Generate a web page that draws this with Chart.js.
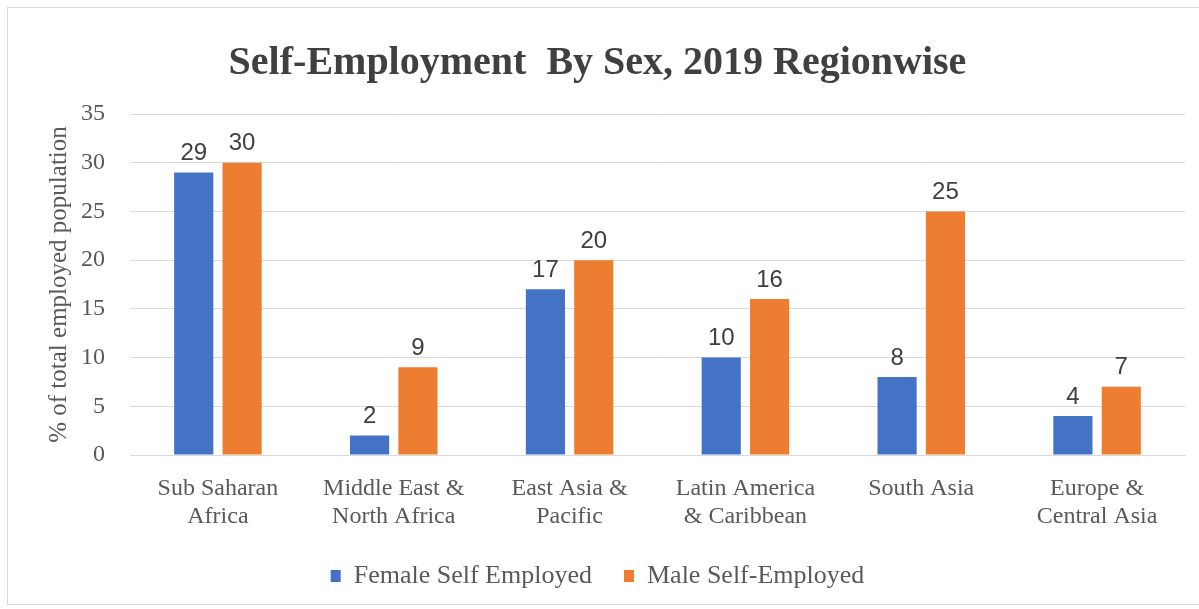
<!DOCTYPE html>
<html>
<head>
<meta charset="utf-8">
<script src="https://cdn.jsdelivr.net/npm/chart.js@4.4.1/dist/chart.umd.min.js"></script>
<style>
    html, body { margin: 0; padding: 0; background: #fff; }
    #frame {
        position: absolute; left: 7px; top: 7px; width: 1200px; height: 598px;
        border: 1px solid #d9d9d9; box-sizing: border-box;
    }
    #wrap { position: absolute; left: 0; top: 0; width: 1199px; height: 609px; }
</style>
</head>
<body>
<div id="frame"></div>
<div id="wrap"><canvas id="chart"></canvas></div>
<script>
const regions = [
    ["Sub Saharan", "Africa"],
    ["Middle East &", "North Africa"],
    ["East Asia &", "Pacific"],
    ["Latin America", "& Caribbean"],
    "South Asia",
    ["Europe &", "Central Asia"]
];
const female = [29, 2, 17, 10, 8, 4];
const male = [30, 9, 20, 16, 25, 7];
const yTicks = { min: 0, max: 35, step: 5 };

const serif = "'Liberation Serif', 'DejaVu Serif', serif";
const sans = "'Liberation Sans', Arial, sans-serif";

// values above the bars
const barValues = {
    id: "barValues",
    afterDatasetsDraw(chart) {
        const ctx = chart.ctx;
        ctx.save();
        ctx.font = "24px " + sans;
        ctx.fillStyle = "#404040";
        ctx.textAlign = "center";
        ctx.textBaseline = "bottom";
        chart.data.datasets.forEach((ds, i) => {
            chart.getDatasetMeta(i).data.forEach((bar, j) => {
                ctx.fillText(ds.data[j], bar.x, bar.y - 7);
            });
        });
        ctx.restore();
    }
};

new Chart(document.getElementById("chart"), {
    type: "bar",
    data: {
        labels: regions,
        datasets: [{
            label: "Female Self Employed",
            data: female,
            backgroundColor: "#4472C4",
            borderWidth: 0
        }, {
            label: "Male Self-Employed",
            data: male,
            backgroundColor: "#ED7D31",
            borderWidth: 0
        }]
    },
    options: {
        responsive: true,
        maintainAspectRatio: false,
        animation: false,
        categoryPercentage: 0.55,
        barPercentage: 0.81,
        layout: {
            padding: { left: 10, right: 14, top: 0, bottom: 10 }
        },
        scales: {
            x: {
                afterFit: s => { s.height = 76; },
                grid: { display: false },
                border: { display: true, color: "#d9d9d9" },
                ticks: {
                    color: "#595959",
                    font: { family: serif, size: 24, lineHeight: 1.2 },
                    padding: 11,
                    maxRotation: 0,
                    autoSkip: false
                }
            },
            y: {
                min: yTicks.min,
                max: yTicks.max,
                afterFit: s => { s.width = 120; },
                grid: { color: "#d9d9d9", drawTicks: false },
                border: { display: false },
                ticks: {
                    stepSize: yTicks.step,
                    color: "#595959",
                    font: { family: serif, size: 24 },
                    padding: 25
                },
                title: {
                    display: true,
                    text: "% of total employed population",
                    color: "#595959",
                    font: { family: serif, size: 25 },
                    padding: { top: 34, bottom: 0 }
                }
            }
        },
        plugins: {
            title: {
                display: true,
                text: "Self-Employment  By Sex, 2019 Regionwise",
                color: "#404040",
                font: { family: serif, size: 40, weight: "bold" },
                padding: { top: 40, bottom: 26 }
            },
            legend: {
                position: "bottom",
                labels: {
                    color: "#595959",
                    font: { family: serif, size: 26 },
                    boxWidth: 10,
                    boxHeight: 12,
                    padding: 32
                }
            },
            tooltip: { enabled: false }
        }
    },
    plugins: [barValues]
});
</script>
</body>
</html>
